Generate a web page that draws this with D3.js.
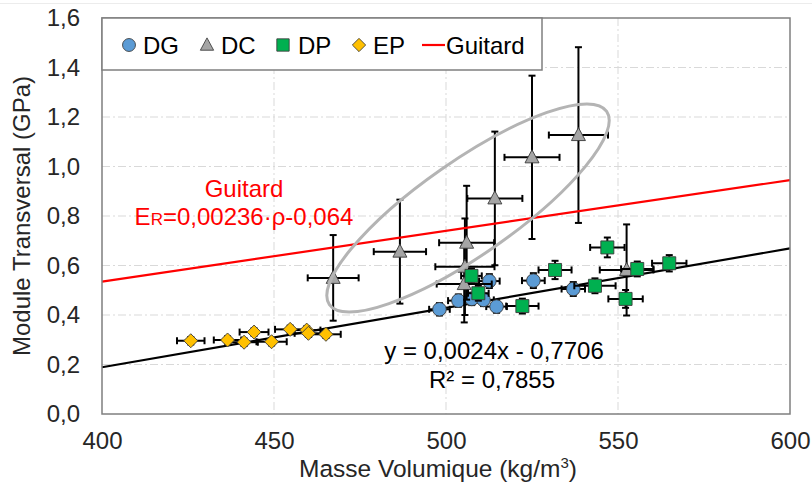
<!DOCTYPE html>
<html><head><meta charset="utf-8">
<script src="https://cdn.jsdelivr.net/npm/d3@7"></script>
<style>body{margin:0;background:#fff}svg{display:block}text{font-family:"Liberation Sans",Arial,sans-serif}</style>
</head><body><svg id="c" width="812" height="491"></svg>
<script>
// ---------- data ----------
const xTicks = [400, 450, 500, 550, 600];
const yTicks = [0, 0.2, 0.4, 0.6, 0.8, 1.0, 1.2, 1.4, 1.6];

const dgX    = [498.1, 503.6, 507.5, 510.9, 512.6, 514.7, 525.4, 537.0];
const dgY    = [0.423, 0.458, 0.465, 0.461, 0.537, 0.434, 0.539, 0.505];
const dgXErr = [3.0, 3.0, 3.0, 3.0, 3.0, 3.0, 3.3, 3.4];
const dgYErr = [0.025, 0.025, 0.025, 0.025, 0.028, 0.025, 0.03, 0.028];

const dcX    = [467.2, 486.6, 505.3, 505.5, 506.0, 514.2, 525.0, 538.5, 552.5];
const dcY    = [0.55, 0.656, 0.525, 0.595, 0.692, 0.871, 1.037, 1.127, 0.582];
const dcXErr = [7.4, 7.6, 8.0, 8.6, 8.0, 8.0, 8.0, 8.6, 7.8];
const dcYErr = [0.173, 0.21, 0.155, 0.195, 0.23, 0.27, 0.33, 0.355, 0.184];

const dpX    = [507.4, 509.4, 522.2, 531.7, 543.3, 546.9, 552.2, 555.6, 564.9];
const dpY    = [0.558, 0.488, 0.436, 0.582, 0.518, 0.673, 0.465, 0.586, 0.609];
const dpXErr = [3.0, 3.0, 4.7, 4.8, 6.0, 5.0, 5.0, 4.7, 5.0];
const dpYErr = [0.03, 0.03, 0.03, 0.037, 0.03, 0.04, 0.036, 0.03, 0.033];

const epX    = [425.8, 436.5, 441.3, 444.2, 449.3, 454.7, 459.5, 460.0, 465.1];
const epY    = [0.296, 0.299, 0.29, 0.331, 0.292, 0.342, 0.339, 0.326, 0.322];
const epXErr = [4.0, 4.0, 4.0, 4.2, 4.4, 4.4, 4.0, 4.0, 4.3];
const epYErr = [0.015, 0.015, 0.015, 0.015, 0.015, 0.015, 0.015, 0.015, 0.015];

const trendX = [400, 600];
const trendY = [0.189, 0.669];
const guitardX = [400, 600];
const guitardY = [0.535, 0.945];

const ellipseTips = [[466.1, 0.442], [546.7, 1.223]];

const seriesNames = ["DG", "DC", "DP", "EP", "Guitard"];

// ---------- layout ----------
const W = 812, H = 491;
const plot = {l: 102, r: 790, t: 18, b: 414};
const FONT = 24;
const svg = d3.select("#c");
const x = d3.scaleLinear().domain([400, 600]).range([plot.l, plot.r]);
const y = d3.scaleLinear().domain([0, 1.6]).range([plot.b, plot.t]);
const fmt = v => d3.format(".1f")(v).replace(".", ",");

// faint chart-area border
svg.append("line").attr("x1", 0).attr("x2", W).attr("y1", 3.5).attr("y2", 3.5)
  .attr("stroke", "#ececec").attr("stroke-width", 1);

// gridlines
const grid = svg.append("g");
grid.selectAll("line.h").data(yTicks.filter(v => v > 0 && v < 1.6)).join("line")
  .attr("x1", plot.l).attr("x2", plot.r).attr("y1", d => y(d)).attr("y2", d => y(d))
  .attr("stroke", "#d9d9d9").attr("stroke-width", 1).attr("stroke-dasharray", "8,3,2,3");
grid.selectAll("line.v").data(xTicks.filter(v => v > 400 && v < 600)).join("line")
  .attr("y1", plot.t).attr("y2", plot.b).attr("x1", d => x(d)).attr("x2", d => x(d))
  .attr("stroke", "#d9d9d9").attr("stroke-width", 1).attr("stroke-dasharray", "8,3,2,3");

// axes (labels only)
const ax = svg.append("g").attr("transform", `translate(0,${plot.b})`)
  .call(d3.axisBottom(x).tickValues(xTicks).tickSize(0).tickPadding(18).tickFormat(d3.format("d")));
const ay = svg.append("g").attr("transform", `translate(${plot.l},0)`)
  .call(d3.axisLeft(y).tickValues(yTicks).tickSize(0).tickPadding(22).tickFormat(fmt));
[ax, ay].forEach(g => {
  g.select(".domain").remove();
  g.selectAll("text").attr("font-size", FONT).attr("fill", "#262626")
    .attr("font-family", '"Liberation Sans", Arial, sans-serif');
});

// trend line
svg.append("line")
  .attr("x1", x(trendX[0])).attr("y1", y(trendY[0]))
  .attr("x2", x(trendX[1])).attr("y2", y(trendY[1]))
  .attr("stroke", "#000").attr("stroke-width", 2.2);

// series
const series = [
  {name: "DG", X: dgX, Y: dgY, XE: dgXErr, YE: dgYErr, fill: "#5B9BD5", shape: "circle"},
  {name: "DC", X: dcX, Y: dcY, XE: dcXErr, YE: dcYErr, fill: "#A5A5A5", shape: "triangle"},
  {name: "DP", X: dpX, Y: dpY, XE: dpXErr, YE: dpYErr, fill: "#00B050", shape: "square"},
  {name: "EP", X: epX, Y: epY, XE: epXErr, YE: epYErr, fill: "#FFC000", shape: "diamond"}
];

function shapePath(shape) {
  switch (shape) {
    case "circle": return "M6.8,0A6.8,6.8 0 1,1 -6.8,0A6.8,6.8 0 1,1 6.8,0Z";
    case "triangle": return "M0,-7.5L7,5.5L-7,5.5Z";
    case "square": return "M-6.5,-6.5H6.5V6.5H-6.5Z";
    case "diamond": return "M0,-7L7,0L0,7L-7,0Z";
  }
}

const cap = 3.5;
series.forEach(s => {
  const pts = s.X.map((v, i) => ({x: v, y: s.Y[i], xe: s.XE[i], ye: s.YE[i]}));
  const g = svg.append("g");
  const eb = g.append("g").attr("stroke", "#000").attr("stroke-width", 2);
  pts.forEach(p => {
    const cx = x(p.x), cy = y(p.y);
    const x0 = x(p.x - p.xe), x1 = x(p.x + p.xe);
    const y0 = y(p.y - p.ye), y1 = y(p.y + p.ye);
    eb.append("line").attr("x1", x0).attr("x2", x1).attr("y1", cy).attr("y2", cy);
    eb.append("line").attr("x1", x0).attr("x2", x0).attr("y1", cy - cap).attr("y2", cy + cap);
    eb.append("line").attr("x1", x1).attr("x2", x1).attr("y1", cy - cap).attr("y2", cy + cap);
    eb.append("line").attr("x1", cx).attr("x2", cx).attr("y1", y0).attr("y2", y1);
    eb.append("line").attr("y1", y0).attr("y2", y0).attr("x1", cx - cap).attr("x2", cx + cap);
    eb.append("line").attr("y1", y1).attr("y2", y1).attr("x1", cx - cap).attr("x2", cx + cap);
  });
  s.g = g;
  s.pts = pts;
});
series.forEach(s => {
  s.g.selectAll("path.m").data(s.pts).join("path")
    .attr("d", shapePath(s.shape))
    .attr("transform", d => `translate(${x(d.x)},${y(d.y)})`)
    .attr("fill", s.fill).attr("stroke", "#3a3a3a").attr("stroke-width", 0.9);
});

// Guitard line
svg.append("line")
  .attr("x1", x(guitardX[0])).attr("y1", y(guitardY[0]))
  .attr("x2", x(guitardX[1])).attr("y2", y(guitardY[1]))
  .attr("stroke", "#FF0000").attr("stroke-width", 2.2);

// ellipse annotation
{
  const p1 = [x(ellipseTips[0][0]), y(ellipseTips[0][1])];
  const p2 = [x(ellipseTips[1][0]), y(ellipseTips[1][1])];
  const cx = (p1[0] + p2[0]) / 2, cy = (p1[1] + p2[1]) / 2;
  const a = Math.hypot(p2[0] - p1[0], p2[1] - p1[1]) / 2;
  const ang = Math.atan2(p2[1] - p1[1], p2[0] - p1[0]) * 180 / Math.PI;
  svg.append("ellipse").attr("cx", 0).attr("cy", 0).attr("rx", a).attr("ry", 47)
    .attr("transform", `translate(${cx},${cy}) rotate(${ang})`)
    .attr("fill", "none").attr("stroke", "#B4B4B4").attr("stroke-width", 3);
}

// plot border
svg.append("rect").attr("x", plot.l).attr("y", plot.t)
  .attr("width", plot.r - plot.l).attr("height", plot.b - plot.t)
  .attr("fill", "none").attr("stroke", "#7f7f7f").attr("stroke-width", 1.5);

// legend
{
  const lg = svg.append("g");
  lg.append("rect").attr("x", plot.l).attr("y", plot.t).attr("width", 440).attr("height", 52)
    .attr("fill", "#fff").attr("stroke", "#7f7f7f").attr("stroke-width", 1.5);
  const ly = 45;
  const items = [
    {mx: 129, tx: 143, s: series[0]},
    {mx: 207, tx: 221, s: series[1]},
    {mx: 283, tx: 298, s: series[2]},
    {mx: 359, tx: 373, s: series[3]}
  ];
  items.forEach(it => {
    lg.append("path").attr("d", shapePath(it.s.shape))
      .attr("transform", `translate(${it.mx},${ly}) scale(0.95)`)
      .attr("fill", it.s.fill).attr("stroke", "#3a3a3a").attr("stroke-width", 0.9);
    lg.append("text").attr("x", it.tx).attr("y", ly).attr("dy", "0.36em")
      .attr("font-size", FONT).attr("fill", "#000").text(it.s.name);
  });
  lg.append("line").attr("x1", 422).attr("x2", 445).attr("y1", ly).attr("y2", ly)
    .attr("stroke", "#FF0000").attr("stroke-width", 2.2);
  lg.append("text").attr("x", 446).attr("y", ly).attr("dy", "0.36em")
    .attr("font-size", FONT).attr("fill", "#000").text(seriesNames[4]);
}

// annotations
svg.append("text").attr("x", 244).attr("y", 197).attr("text-anchor", "middle")
  .attr("font-size", FONT).attr("fill", "#FF0000").text("Guitard");
{
  const t = svg.append("text").attr("x", 244).attr("y", 225).attr("text-anchor", "middle")
    .attr("font-size", FONT).attr("fill", "#FF0000");
  t.append("tspan").text("E");
  t.append("tspan").attr("font-size", 17).text("R");
  t.append("tspan").text("=0,00236·ρ-0,064");
}
svg.append("text").attr("x", 494).attr("y", 359).attr("text-anchor", "middle")
  .attr("font-size", FONT).attr("fill", "#000").text("y = 0,0024x - 0,7706");
svg.append("text").attr("x", 492).attr("y", 388).attr("text-anchor", "middle")
  .attr("font-size", FONT).attr("fill", "#000").text("R² = 0,7855");

// axis titles
{
  const t = svg.append("text").attr("x", 438).attr("y", 477).attr("text-anchor", "middle")
    .attr("font-size", 24.5).attr("fill", "#262626");
  t.append("tspan").text("Masse Volumique (kg/m");
  t.append("tspan").attr("font-size", 15).attr("dy", -9).text("3");
  t.append("tspan").attr("dy", 9).text(")");
}
svg.append("text").attr("transform", "translate(30,216) rotate(-90)").attr("text-anchor", "middle")
  .attr("font-size", FONT).attr("fill", "#262626").text("Module Transversal (GPa)");
</script></body></html>
